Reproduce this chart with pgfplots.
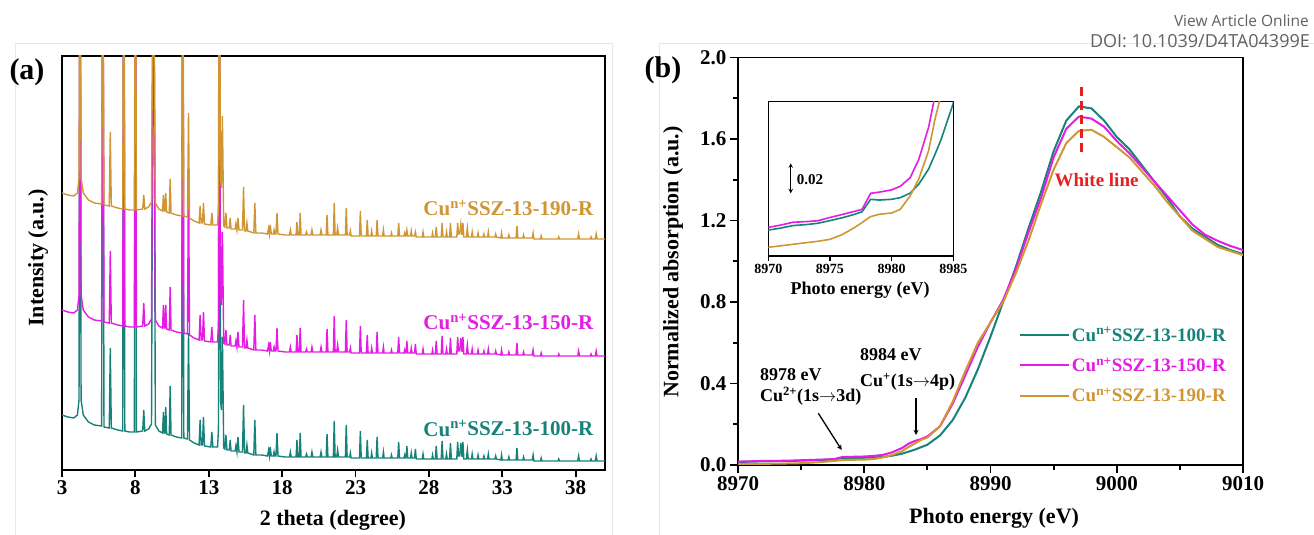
\documentclass[border=0pt]{standalone}
\usepackage{fontspec}
\setmainfont{Liberation Serif}
\newfontfamily\hdrfont{Open Sans}
\usepackage{pgfplots}
\usepackage{pgfplotstable}
\pgfplotsset{compat=1.18}
\definecolor{cteal}{RGB}{22,130,122}
\definecolor{cmag}{RGB}{228,28,228}
\definecolor{cora}{RGB}{208,150,52}
\definecolor{cred}{RGB}{228,32,32}
\newcommand{\fs}[1]{\fontsize{#1}{#1}\selectfont}

\pgfplotstableread{
x a b c
3.00 55 160 277
3.40 53 158 275
3.80 52 157 274
4.05 55 160 277
4.16 70 175 292
4.23 600 600 600
4.30 70 175 292
4.45 55 160 277
4.80 48 153 270
5.20 45 150 267
5.70 44 149 266
5.78 600 600 600
5.86 43 148 265
6.22 42 147 264
6.29 122 219 338
6.36 42 147 264
6.80 40 145 262
7.14 39 144 261
7.21 600 600 600
7.28 39 144 261
7.60 38 143 260
7.93 38 143 260
8.00 600 600 600
8.07 38 143 260
8.50 39 144 261
8.57 60 167 275
8.64 39 144 261
8.90 41 146 263
9.10 46 151 268
9.23 600 600 600
9.36 45 150 267
9.60 39 144 261
9.85 37 142 259
9.91 58 165 275
9.97 37 142 259
10.01 37 142 259
10.07 63 165 277
10.13 36 141 258
10.31 35 140 257
10.37 84 183 291
10.43 35 140 257
10.80 33 138 255
11.16 32 137 254
11.23 600 600 600
11.30 32 137 254
11.55 31 136 253
11.62 137 300 357
11.69 30 135 252
12.00 27 132 249
12.34 25 130 247
12.41 50 155 264
12.48 25 130 247
12.57 25 130 247
12.64 53 158 267
12.71 24 129 246
13.14 23 128 245
13.21 38 143 257
13.28 23 128 245
13.60 23 128 245
13.66 40 145 262
13.71 600 600 600
13.80 70 175 292
13.86 60 165 282
13.93 133 238 354
14.02 22 127 244
14.10 21 126 243
14.17 35 140 257
14.24 20 125 242
14.40 20 125 242
14.46 30 135 252
14.52 19 124 241
14.80 19 124 241
14.85 24 129 246
14.92 18 123 240
14.99 33 138 252
15.06 18 123 240
15.30 18 123 240
15.37 65 170 283
15.44 17 122 239
15.54 17 122 239
15.60 25 130 247
15.66 17 122 239
16.07 15 120 237
16.14 50 155 267
16.21 15 120 237
16.60 15 120 237
17.00 14 119 236
17.08 20 125 242
17.14 14 119 236
17.19 23 128 245
17.26 14 119 236
17.40 14 119 236
17.45 18 123 240
17.50 14 119 236
17.58 14 119 236
17.65 37 142 257
17.72 14 119 236
18.20 13 118 235
18.50 13 118 235
18.56 18 123 240
18.62 13 118 235
18.95 13 118 235
19.01 30 135 248
19.07 13 118 235
19.17 13 118 235
19.23 37 142 257
19.29 13 118 235
19.60 13 118 235
19.66 16 121 238
19.72 13 118 235
19.97 13 118 235
20.03 18 123 240
20.09 13 118 235
20.59 13 118 235
20.65 18 123 240
20.71 13 118 235
21.00 13 118 235
21.06 36 141 255
21.12 13 118 235
21.49 13 118 235
21.55 49 154 267
21.61 13 118 235
21.72 13 118 235
21.78 20 125 242
21.84 13 118 235
22.31 13 118 235
22.37 45 150 262
22.43 13 118 235
22.60 13 118 235
22.65 17 122 239
22.70 12 117 234
23.27 12 117 234
23.33 39 144 259
23.39 12 117 234
23.74 12 117 234
23.80 30 135 250
23.86 12 117 234
24.05 12 117 234
24.10 17 122 239
24.15 12 117 234
24.41 12 117 234
24.47 33 138 250
24.53 12 117 234
24.85 12 117 234
24.90 18 123 240
24.95 12 117 234
25.40 12 117 234
25.45 15 120 237
25.50 12 117 234
25.88 12 117 234
25.94 28 133 247
26.00 12 117 234
26.30 12 117 234
26.35 15 120 237
26.40 12 117 234
26.44 12 117 234
26.50 24 129 240
26.56 12 117 234
26.75 12 117 234
26.80 17 122 239
26.85 12 117 234
27.02 12 117 234
27.08 21 126 238
27.14 11 116 233
27.55 11 116 233
27.60 16 121 238
27.65 11 116 233
28.20 11 116 233
28.25 15 120 237
28.30 11 116 233
28.44 11 116 233
28.50 24 129 243
28.56 11 116 233
28.84 11 116 233
28.90 29 134 247
28.96 11 116 233
29.15 11 116 233
29.20 16 121 238
29.25 11 116 233
29.41 11 116 233
29.47 27 132 247
29.53 11 116 233
29.90 11 116 233
29.96 28 133 247
30.02 14 119 236
30.10 14 119 236
30.18 27 132 246
30.26 13 118 235
30.32 28 133 247
30.38 11 116 233
30.55 11 116 233
30.62 20 125 242
30.68 11 116 233
30.90 11 116 233
30.95 16 121 238
31.00 11 116 233
31.30 11 116 233
31.35 15 120 237
31.40 11 116 233
31.70 11 116 233
31.75 14 119 236
31.80 11 116 233
32.00 11 116 233
32.05 16 121 238
32.10 11 116 233
32.50 11 116 233
32.55 14 119 236
32.60 11 116 233
32.90 10 115 232
32.95 15 120 237
33.00 10 115 232
33.40 10 115 232
33.45 13 118 235
33.50 10 115 232
33.94 10 115 232
34.00 22 127 244
34.06 10 115 232
34.40 10 115 232
34.45 13 118 235
34.50 10 115 232
35.04 10 115 232
35.10 15 120 237
35.16 9 114 231
35.60 9 114 231
35.65 12 117 234
35.70 9 114 231
36.20 9 114 231
36.80 9 114 231
36.85 11 116 233
36.90 9 114 231
37.50 9 114 231
38.14 9 114 231
38.20 14 119 236
38.26 9 114 231
38.70 9 114 231
39.00 9 114 231
39.05 11 116 233
39.10 9 114 231
39.34 9 114 231
39.40 14 119 236
39.46 9 114 231
39.70 9 114 231
40.00 9 114 231
}\xrd

\pgfplotstableread{
E t m o
8970 0.0150 0.0168 0.0035
8971 0.0163 0.0183 0.0045
8972 0.0180 0.0202 0.0055
8973 0.0186 0.0206 0.0065
8974 0.0195 0.0212 0.0075
8975 0.0213 0.0234 0.0088
8976 0.0232 0.0254 0.0120
8977 0.0255 0.0275 0.0167
8977.6 0.0272 0.0288 0.0200
8978.3 0.0355 0.0395 0.0240
8979 0.0350 0.0403 0.0255
8980 0.0355 0.0418 0.0264
8980.7 0.0366 0.0442 0.0288
8981.5 0.0396 0.0499 0.0378
8982.2 0.0456 0.0621 0.0490
8983 0.0557 0.0836 0.0680
8983.5 0.0652 0.1040 0.0884
8984 0.0752 0.1180 0.1050
8984.5 0.0874 0.1270 0.1230
8985 0.0995 0.1400 0.1350
8986 0.145 0.190 0.190
8987 0.22 0.30 0.31
8988 0.33 0.44 0.46
8989 0.47 0.58 0.60
8990 0.63 0.70 0.70
8991 0.80 0.81 0.80
8992 0.97 0.96 0.94
8993 1.16 1.14 1.10
8994 1.34 1.31 1.28
8995 1.54 1.51 1.45
8996 1.69 1.65 1.58
8997 1.76 1.71 1.64
8998 1.75 1.70 1.645
8999 1.69 1.66 1.61
9000 1.61 1.59 1.56
9001 1.55 1.53 1.51
9002 1.47 1.46 1.44
9003 1.39 1.39 1.37
9004 1.31 1.32 1.29
9005 1.22 1.25 1.22
9006 1.16 1.18 1.15
9007 1.12 1.13 1.11
9008 1.08 1.10 1.07
9009 1.055 1.075 1.05
9010 1.035 1.055 1.03
}\xas

\begin{document}
\begin{tikzpicture}[x=1pt,y=1pt]
\useasboundingbox (0,0) rectangle (1314,535);
\draw[black!9, line width=0.8pt] (15,0) -- (15,492) -- (612,492) -- (612,0);
\draw[black!9, line width=0.8pt] (659,0) -- (659,492) -- (1314,492);
\node[anchor=east, inner sep=0, text=black!62, font=\hdrfont\fs{15.5}] at (1309,514.5) {View Article Online};
\node[anchor=east, inner sep=0, text=black!62, font=\hdrfont\fs{18}] at (1310,493.5) {DOI: 10.1039/D4TA04399E};
\node[font=\bfseries\fs{30}, inner sep=0] at (27,463) {(a)};
\node[font=\bfseries\fs{30}, inner sep=0] at (663,465) {(b)};

% ---------- panel (a) ----------
\begin{axis}[
  at={(62pt,65pt)}, anchor=south west, scale only axis,
  width=543pt, height=414pt,
  xmin=3, xmax=40, ymin=0, ymax=414,
  xtick={3,8,13,18,23,28,33,38}, ytick=\empty,
  tick align=outside, tick pos=left, major tick length=7pt,
  axis line style={line width=1.8pt},
  every tick/.append style={black, line width=1.8pt},
  ticklabel style={font=\bfseries\fs{21}},
  /pgf/number format/assume math mode=true,
  xlabel={2 theta (degree)},
  xlabel style={font=\bfseries\fs{22}, at={(axis description cs:0.499,-0.121)}, anchor=center},
  ylabel={Intensity (a.u.)},
  ylabel style={font=\bfseries\fs{22}, at={(axis description cs:-0.044,0.512)}, anchor=center},
]
\addplot[cteal, line width=1.4pt] table[x=x, y=a] {\xrd};
\addplot[cmag, line width=1.4pt] table[x=x, y=b] {\xrd};
\addplot[cora, line width=1.4pt] table[x=x, y=c] {\xrd};
\node[anchor=base east, inner sep=0, font=\bfseries\fs{21}, text=cora] at (axis cs:39.22,254) {Cu\textsuperscript{n+}SSZ-13-190-R};
\node[anchor=base east, inner sep=0, font=\bfseries\fs{21}, text=cmag] at (axis cs:39.22,140) {Cu\textsuperscript{n+}SSZ-13-150-R};
\node[anchor=base east, inner sep=0, font=\bfseries\fs{21}, text=cteal] at (axis cs:39.22,34) {Cu\textsuperscript{n+}SSZ-13-100-R};
\end{axis}

% ---------- panel (b) ----------
\begin{axis}[
  at={(738pt,70pt)}, anchor=south west, scale only axis,
  width=505pt, height=407.5pt,
  xmin=8970, xmax=9010, ymin=0, ymax=2,
  xtick={8970,8980,8990,9000,9010}, minor x tick num=1,
  ytick={0,0.4,0.8,1.2,1.6,2.0}, minor y tick num=1,
  xticklabel style={/pgf/number format/set thousands separator={}},
  yticklabel style={/pgf/number format/fixed, /pgf/number format/fixed zerofill, /pgf/number format/precision=1},
  tick align=outside, tick pos=left, major tick length=8pt, minor tick length=5pt,
  axis line style={line width=1.8pt},
  every tick/.append style={black, line width=1.8pt},
  ticklabel style={font=\bfseries\fs{21}},
  /pgf/number format/assume math mode=true,
  xlabel={Photo energy (eV)},
  xlabel style={font=\bfseries\fs{22}, at={(axis description cs:0.507,-0.130)}, anchor=center},
  ylabel={Normalized absorption (a.u.)},
  ylabel style={font=\bfseries\fs{22}, at={(axis description cs:-0.1287,0.498)}, anchor=center},
  legend style={draw=none, fill=none, at={(axis description cs:0.556,0.343)}, anchor=north west,
    font=\bfseries\fs{19}, inner sep=0pt, row sep=11pt},
  legend cell align=left,
  legend image code/.code={\draw[#1, line width=2pt] (0pt,0pt) -- (49pt,0pt);},
]
\addplot[cteal, line width=2pt] table[x=E, y=t] {\xas};
\addlegendentry{\textcolor{cteal}{Cu\textsuperscript{n+}SSZ-13-100-R}}
\addplot[cmag, line width=2pt] table[x=E, y=m] {\xas};
\addlegendentry{\textcolor{cmag}{Cu\textsuperscript{n+}SSZ-13-150-R}}
\addplot[cora, line width=2pt] table[x=E, y=o] {\xas};
\addlegendentry{\textcolor{cora}{Cu\textsuperscript{n+}SSZ-13-190-R}}
\draw[cred, line width=2.5pt, dash pattern=on 9pt off 5pt] (axis cs:8997.2,1.855) -- (axis cs:8997.2,1.512);
\node[text=cred, font=\bfseries\fs{19}] at (axis cs:8998.4,1.399) {White line};
\node[anchor=west, inner sep=0, font=\bfseries\fs{18}] at (axis cs:8971.74,0.442) {8978 eV};
\node[anchor=west, inner sep=0, font=\bfseries\fs{18}] at (axis cs:8971.74,0.339) {Cu\textsuperscript{2+}(1s$\rightarrow$3d)};
\node[anchor=west, inner sep=0, font=\bfseries\fs{18}] at (axis cs:8979.66,0.540) {8984 eV};
\node[anchor=west, inner sep=0, font=\bfseries\fs{18}] at (axis cs:8979.66,0.407) {Cu\textsuperscript{+}(1s$\rightarrow$4p)};
\draw[->, >=stealth, line width=1.3pt] (axis cs:8976.36,0.254) -- (axis cs:8978.21,0.074);
\draw[->, >=stealth, line width=1.3pt] (axis cs:8984.1,0.327) -- (axis cs:8984.1,0.147);
\end{axis}

% ---------- inset ----------
\begin{axis}[
  at={(768.3pt,279pt)}, anchor=south west, scale only axis,
  width=185pt, height=154.3pt,
  xmin=8970, xmax=8985, ymin=-0.0023, ymax=0.1006,
  xtick={8970,8975,8980,8985}, ytick=\empty,
  xticklabel style={/pgf/number format/set thousands separator={}},
  tick align=outside, tick pos=left, major tick length=5pt,
  axis line style={line width=1.5pt},
  every tick/.append style={black, line width=1.5pt},
  ticklabel style={font=\bfseries\fs{14}},
  /pgf/number format/assume math mode=true,
  axis background/.style={fill=white},
  xlabel={Photo energy (eV)},
  xlabel style={font=\bfseries\fs{18}, at={(axis description cs:0.496,-0.220)}, anchor=center},
]
\addplot[cteal, line width=1.6pt] table[x=E, y=t] {\xas};
\addplot[cmag, line width=1.6pt] table[x=E, y=m] {\xas};
\addplot[cora, line width=1.6pt] table[x=E, y=o] {\xas};
\draw[<->, >=stealth, line width=1pt] (axis cs:8971.82,0.0395) -- (axis cs:8971.82,0.0595);
\node[anchor=west, inner sep=0, font=\bfseries\fs{15}] at (axis cs:8972.3,0.0484) {0.02};
\end{axis}
\end{tikzpicture}
\end{document}
